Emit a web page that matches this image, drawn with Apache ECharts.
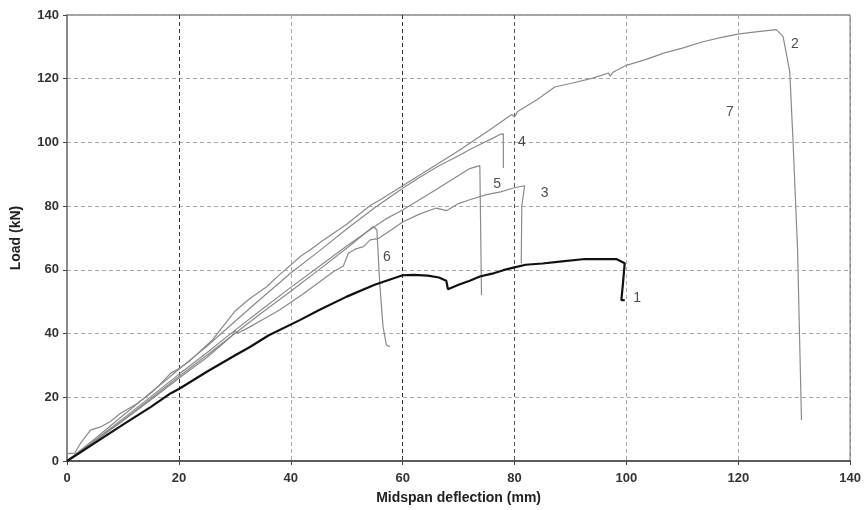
<!DOCTYPE html>
<html>
<head>
<meta charset="utf-8">
<script src="https://cdn.jsdelivr.net/npm/echarts@6/dist/echarts.min.js"></script>
<style>
  html, body { margin: 0; padding: 0; background: #fff; }
  #chart { width: 864px; height: 510px; }
</style>
</head>
<body>
<div id="chart"></div>
<script>
// load-deflection curves, [deflection mm, load kN]
const beam1 = [[0,0],[5,5.7],[10,11.4],[15,17],[18.5,21.2],[20,22.6],[25,28],[30,33.1],[32.7,35.8],[36,39.4],[41.7,44.3],[45,47.3],[50,51.6],[55,55.3],[60,58.3],[62,58.4],[64.5,58.2],[66.5,57.6],[67.8,56.6],[68.1,53.9],[70,55.3],[72,56.6],[73.8,57.9],[76,58.8],[78,59.9],[79.8,60.7],[82,61.6],[85,62],[88.1,62.6],[92.6,63.4],[96,63.4],[98.2,63.4],[99.7,62.1],[99.4,56],[99.1,50.5],[99.7,50.5]];
const beam2 = [[0,2.3],[1.4,2.5],[2.4,5.5],[4.2,9.7],[6,10.7],[7.7,12.3],[9.5,14.9],[12.5,18],[14.9,21.2],[16.5,23.8],[18.5,27.5],[20,29],[22,31.5],[24,34.8],[26,38],[28,42.5],[30,47],[32.7,51],[35.7,54.7],[38,58.5],[40,61.5],[41.7,64.2],[43.5,66.3],[46,69.5],[50,74.3],[54.2,80.2],[56,82],[60,86.4],[65,91.9],[70,97.4],[75.6,104],[79.5,108.8],[80,108],[80.5,109.6],[84,113.4],[87.2,117.4],[90,118.5],[94,120.2],[96.8,121.8],[97.1,120.8],[97.6,122],[100,124.2],[103.4,126],[106.8,128.1],[110,129.6],[113.7,131.6],[117,133],[120.2,134.1],[123.5,134.8],[126.8,135.4],[128,133.3],[129.2,122.3],[129.8,99.8],[130.6,66.3],[131.3,12.8]];
const beam3 = [[0,0],[5,6.2],[10,12.6],[15,19.2],[20,26],[25,32.5],[29.5,39.3],[30,41],[30.6,40.2],[32.7,42.1],[35,44.4],[38,47.4],[42,52.2],[45,56],[47.6,59.4],[49.4,61.2],[50.3,65.2],[51.5,66.5],[53,67.3],[54.2,69.4],[55.6,69.8],[58,72.6],[60,75],[63,77.5],[66,79.4],[67.9,78.6],[70,80.8],[72,82],[75,83.6],[77.5,84.5],[79.8,85.7],[81.8,86.4],[81.3,80],[81.2,62]];
const beam4 = [[0,0],[5,7],[10,14.3],[15,21.5],[20,28.8],[25,36],[30,43.8],[35,51.5],[40,59],[45,65.8],[50,72.8],[55,79.5],[60,85.6],[63,89],[66.1,92.3],[68,94],[70,95.8],[72,97.8],[74,99.5],[76,101.2],[77.4,102.5],[78,102.7],[78,92]];
const beam5 = [[0,0],[5,6.5],[10,13.3],[15,20.2],[20,27.2],[25,34],[30,41],[35,47.8],[40,54.5],[45,61],[50,67.5],[54.8,73.4],[57,76],[60,78.8],[63,82],[66,85.2],[69,88.5],[72,91.8],[73.8,92.7],[74.1,52.1]];
const beam6 = [[0,0],[5,6.3],[10,12.8],[15,19.6],[20,26.5],[25,33.2],[30,40],[35,46.8],[40,53.3],[45,60],[50,66.8],[54.75,73.6],[55.4,72.5],[55.9,55.8],[56.5,42.1],[57.1,36.4],[57.7,35.9]];

// curve numbers placed next to each curve
const curveLabels = [['1',101.9,51.1],['2',130.1,131],['3',85.4,84.1],['4',81.3,100.2],['5',76.9,87],['6',57.2,64],['7',118.5,109.6]];

const xTicks = [0,20,40,60,80,100,120,140];
const yTicks = [0,20,40,60,80,100,120,140];

const chart = echarts.init(document.getElementById('chart'), null, { renderer: 'canvas' });

const grayLine = (data) => ({
  type: 'line',
  data: data,
  showSymbol: false,
  symbol: 'none',
  lineStyle: { color: '#8a8a8a', width: 1.2 },
  z: 2
});

const option = {
  animation: false,
  backgroundColor: '#fff',
  grid: {
    left: 67,
    right: 13,
    top: 15,
    bottom: 49,
    show: true,
    borderColor: '#444',
    borderWidth: 1
  },
  xAxis: {
    type: 'value',
    min: 0,
    max: 140,
    interval: 20,
    name: 'Midspan deflection (mm)',
    nameLocation: 'middle',
    nameGap: 30,
    nameTextStyle: { fontFamily: 'Liberation Sans', fontWeight: 'bold', fontSize: 14, color: '#222' },
    axisLine: { lineStyle: { color: '#444', width: 1.5 } },
    axisTick: { show: true, length: 4, lineStyle: { color: '#444' } },
    axisLabel: {
      fontFamily: 'Liberation Sans', fontWeight: 'bold', fontSize: 13, color: '#333', margin: 11,
      formatter: (v) => (xTicks.includes(v) ? String(v) : '')
    },
    splitLine: {
      show: true,
      lineStyle: {
        type: [4, 3],
        width: 1,
        color: ['#aaa', '#333', '#aaa', '#333', '#555', '#aaa', '#aaa', '#aaa']
      }
    }
  },
  yAxis: {
    type: 'value',
    min: 0,
    max: 140,
    interval: 20,
    name: 'Load (kN)',
    nameLocation: 'middle',
    nameGap: 44,
    nameTextStyle: { fontFamily: 'Liberation Sans', fontWeight: 'bold', fontSize: 14, color: '#222' },
    axisLine: { lineStyle: { color: '#888', width: 2 } },
    axisTick: { show: true, length: 4, lineStyle: { color: '#444' } },
    axisLabel: {
      fontFamily: 'Liberation Sans', fontWeight: 'bold', fontSize: 13, color: '#333', margin: 8,
      formatter: (v) => (yTicks.includes(v) ? String(v) : '')
    },
    splitLine: { show: true, lineStyle: { type: [4, 3], width: 1, color: '#aaa' } }
  },
  series: [
    grayLine(beam2),
    grayLine(beam3),
    grayLine(beam4),
    grayLine(beam5),
    grayLine(beam6),
    {
      type: 'line',
      data: beam1,
      showSymbol: false,
      symbol: 'none',
      lineStyle: { color: '#111', width: 2.2 },
      z: 3
    },
    {
      type: 'scatter',
      data: curveLabels.map((d) => ({ name: d[0], value: [d[1], d[2]] })),
      symbolSize: 0,
      silent: true,
      label: {
        show: true,
        position: 'inside',
        formatter: (p) => p.name,
        fontFamily: 'Liberation Sans',
        fontSize: 14,
        color: '#222'
      },
      z: 4
    }
  ]
};

chart.setOption(option);
</script>
</body>
</html>
